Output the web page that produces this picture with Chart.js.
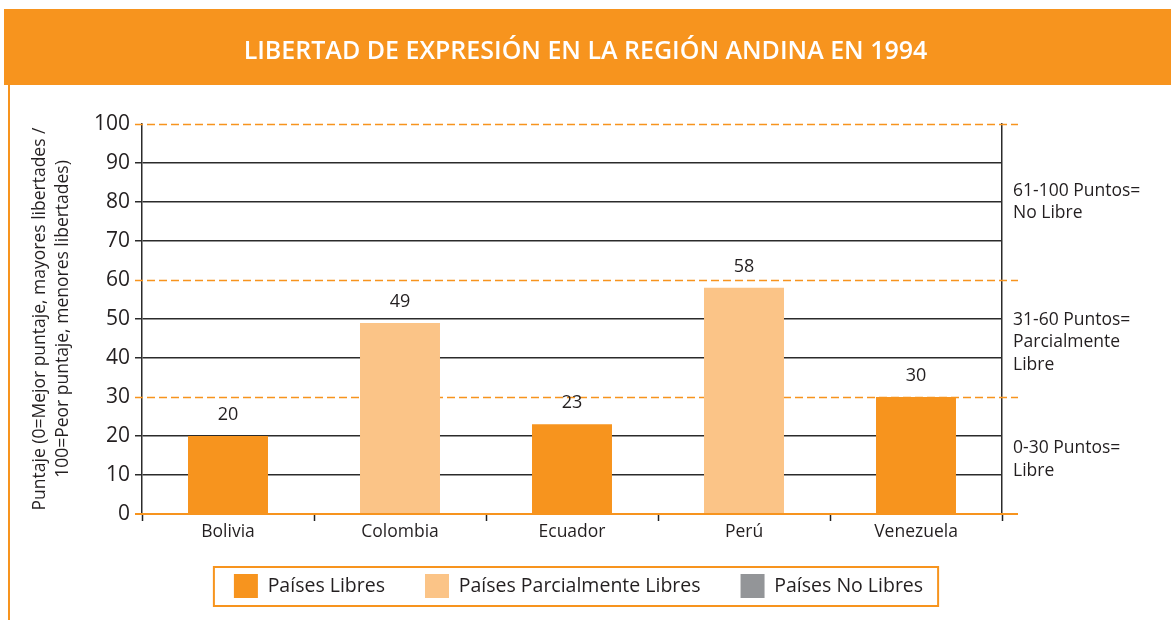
<!doctype html>
<html lang="es">
<head>
<meta charset="utf-8">
<title>Libertad de expresión en la región andina en 1994</title>
<style>
  html, body { margin: 0; padding: 0; background: #fff; }
  #wrap { width: 1171px; height: 620px; position: relative; }
</style>
</head>
<body>
<div id="wrap"><canvas id="grafica" width="1171" height="620"></canvas></div>
<script src="https://cdn.jsdelivr.net/npm/chart.js"></script>
<script>
// datos
var paises = ['Bolivia', 'Colombia', 'Ecuador', 'Perú', 'Venezuela'];
var libres = [20, null, 23, null, 30];
var parcialmenteLibres = [null, 49, null, 58, null];
var noLibres = [null, null, null, null, null];
var series = ['Países Libres', 'Países Parcialmente Libres', 'Países No Libres'];
var colores = ['#F7941E', '#FBC487', '#939598'];

var ticksY = [0, 10, 20, 30, 40, 50, 60, 70, 80, 90, 100];
var umbrales = [30, 60, 100];
var zonaCentros = [80, 44, 14];
var zonaEtiquetas = [
  ['61-100 Puntos=', 'No Libre'],
  ['31-60 Puntos=', 'Parcialmente', 'Libre'],
  ['0-30 Puntos=', 'Libre']
];

var naranja = '#F7941E';
var texto = '#231F20';
var fuente = "'Open Sans', 'DejaVu Sans', sans-serif";
var legendaPad = 40;

// fondo, banda del titulo y borde izquierdo
var marco = {
  id: 'marco',
  beforeDraw: function(chart) {
    var ctx = chart.ctx;
    ctx.save();
    ctx.fillStyle = '#fff';
    ctx.fillRect(0, 0, chart.width, chart.height);
    ctx.fillStyle = naranja;
    ctx.fillRect(4, 9, chart.width - 4, 76);
    ctx.fillRect(8, 85, 2, chart.height - 85);
    ctx.restore();
  }
};

// lineas punteadas de umbral, linea base, valores y recuadro de leyenda
var umbralesPlugin = {
  id: 'umbrales',
  afterLayout: function(chart) {
    // sube la leyenda para que quede pegada al eje x
    var lg = chart.legend;
    var top = 574 - legendaPad;
    lg.bottom = top + lg.height;
    lg.top = top;
    lg.left -= 7;
    lg.right -= 7;
  },
  beforeDatasetsDraw: function(chart) {
    var ctx = chart.ctx, y = chart.scales.y, a = chart.chartArea;
    ctx.save();
    ctx.strokeStyle = naranja;
    ctx.lineWidth = 1.5;
    ctx.setLineDash([8, 4]);
    umbrales.forEach(function(v) {
      var py = Math.round(y.getPixelForValue(v)) + 0.5;
      ctx.beginPath();
      ctx.moveTo(a.left - 7, py);
      ctx.lineTo(a.right + 16, py);
      ctx.stroke();
    });
    ctx.restore();
  },
  afterDatasetsDraw: function(chart) {
    var ctx = chart.ctx, y = chart.scales.y, a = chart.chartArea;
    ctx.save();
    ctx.strokeStyle = naranja;
    ctx.lineWidth = 2;
    var py = y.getPixelForValue(0);
    ctx.beginPath();
    ctx.moveTo(a.left - 7, py);
    ctx.lineTo(a.right + 16, py);
    ctx.stroke();

    ctx.fillStyle = texto;
    ctx.font = '18px ' + fuente;
    ctx.textAlign = 'center';
    ctx.textBaseline = 'middle';
    chart.data.datasets.forEach(function(ds, i) {
      var meta = chart.getDatasetMeta(i);
      meta.data.forEach(function(bar, j) {
        if (ds.data[j] === null) return;
        ctx.fillText(String(ds.data[j]), bar.x, bar.y - 21);
      });
    });
    ctx.restore();
  },
  afterDraw: function(chart) {
    var lg = chart.legend;
    var boxes = lg.legendHitBoxes;
    if (!boxes || !boxes.length) return;
    var minX = boxes[0].left, maxX = 0;
    boxes.forEach(function(b) {
      minX = Math.min(minX, b.left);
      maxX = Math.max(maxX, b.left + b.width);
    });
    var top = lg.top + legendaPad;
    var ctx = chart.ctx;
    ctx.save();
    ctx.strokeStyle = naranja;
    ctx.lineWidth = 2;
    ctx.strokeRect(minX - 20, top - 7, maxX - minX + 35, 39);
    ctx.restore();
  }
};

new Chart(document.getElementById('grafica'), {
  type: 'bar',
  data: {
    labels: paises,
    datasets: [
      { label: series[0], data: libres, backgroundColor: colores[0] },
      { label: series[1], data: parcialmenteLibres, backgroundColor: colores[1] },
      { label: series[2], data: noLibres, backgroundColor: colores[2] }
    ]
  },
  options: {
    responsive: false,
    animation: false,
    devicePixelRatio: 1,
    layout: { padding: { top: 0, right: 0, bottom: 0, left: 0 } },
    datasets: {
      bar: { grouped: false, categoryPercentage: 1, barPercentage: 0.465 }
    },
    plugins: {
      tooltip: { enabled: false },
      title: {
        display: true,
        text: 'LIBERTAD DE EXPRESIÓN EN LA REGIÓN ANDINA EN 1994',
        color: '#fff',
        font: { family: fuente, size: 25, weight: '600', lineHeight: 1.2 },
        padding: { top: 37, bottom: 57 }
      },
      legend: {
        position: 'bottom',
        labels: {
          color: texto,
          font: { family: fuente, size: 19.5 },
          boxWidth: 24,
          boxHeight: 24,
          padding: legendaPad
        }
      }
    },
    scales: {
      x: {
        grid: { drawOnChartArea: false, tickLength: 7, tickColor: '#222', tickWidth: 1.5 },
        border: { display: false },
        ticks: { color: texto, font: { family: fuente, size: 17.5 }, padding: 1 },
        afterFit: function(s) { s.height = 32; }
      },
      y: {
        min: 0,
        max: 100,
        afterBuildTicks: function(s) { s.ticks = ticksY.map(function(v) { return { value: v }; }); },
        grid: {
          tickLength: 7,
          lineWidth: 1.5,
          color: function(c) {
            var v = c.tick ? c.tick.value : null;
            return (v === 0 || umbrales.indexOf(v) >= 0) ? 'rgba(0,0,0,0)' : '#2b2b2b';
          },
          tickColor: function(c) {
            var v = c.tick ? c.tick.value : null;
            return (v === 0 || umbrales.indexOf(v) >= 0) ? 'rgba(0,0,0,0)' : '#2b2b2b';
          }
        },
        border: { color: '#2b2b2b', width: 1.5 },
        ticks: { color: texto, font: { family: fuente, size: 21 }, padding: 5 },
        title: {
          display: true,
          text: ['Puntaje (0=Mejor puntaje, mayores libertades /', '100=Peor puntaje, menores libertades)'],
          color: texto,
          font: { family: fuente, size: 17.5, lineHeight: 1.3 },
          padding: { top: 28.5, bottom: 0 }
        },
        afterFit: function(s) { s.width = 142; }
      },
      y2: {
        position: 'right',
        min: 0,
        max: 100,
        afterBuildTicks: function(s) { s.ticks = zonaCentros.map(function(v) { return { value: v }; }); },
        grid: { drawOnChartArea: false, drawTicks: false },
        border: { color: '#2b2b2b', width: 1.5 },
        ticks: {
          color: texto,
          font: { family: fuente, size: 17.5, lineHeight: 1.3 },
          padding: 11,
          callback: function(v, i) { return zonaEtiquetas[i]; }
        },
        afterFit: function(s) { s.width = 169; }
      }
    }
  },
  plugins: [marco, umbralesPlugin]
});
</script>
</body>
</html>
